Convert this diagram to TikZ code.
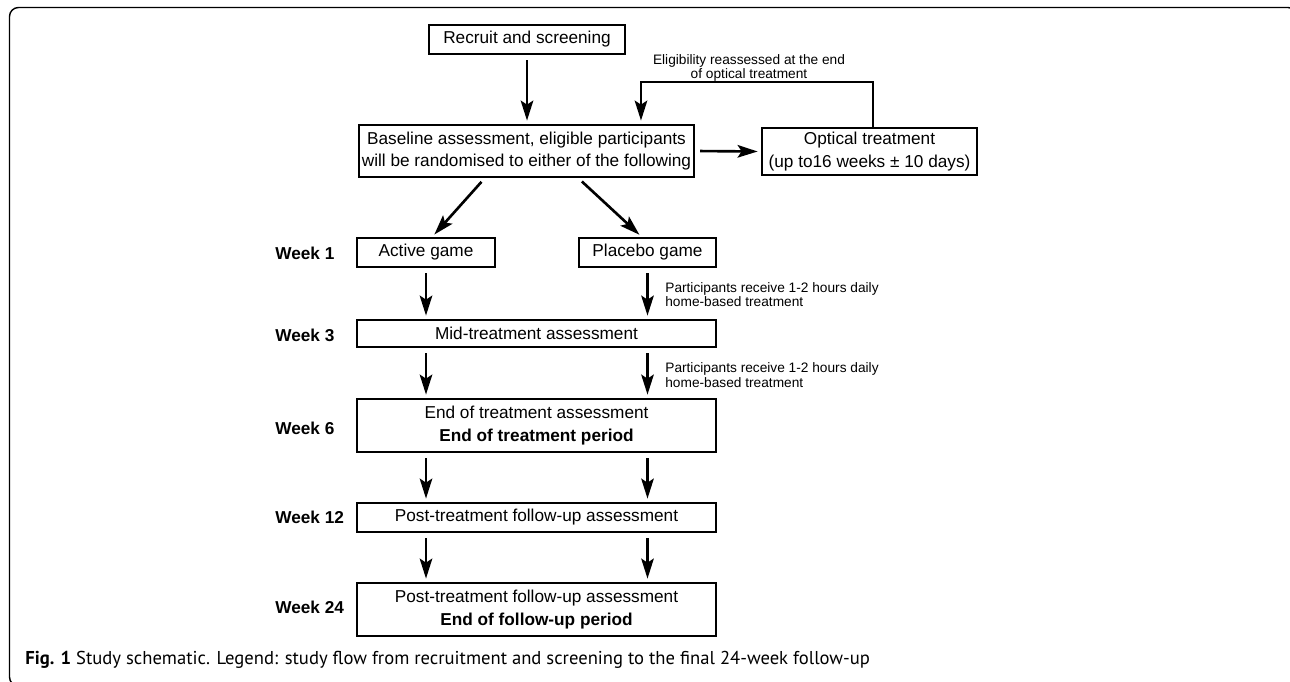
\documentclass[tikz,border=0pt]{standalone}
\usepackage{fontspec}
\setmainfont{Liberation Sans}
\newfontfamily\capfont{PT Sans}
\usepackage{tikz}
\usetikzlibrary{arrows.meta, positioning, calc}

\newcommand{\mainsz}{\fontsize{9.8}{13}\selectfont}
\newcommand{\notesz}{\fontsize{7.8}{8.2}\selectfont}

\begin{document}
\begin{tikzpicture}[
		x=0.02cm, y=-0.02cm,
		>={Stealth[length=0.4cm, width=0.25cm, inset=0.08cm]},
		box/.style={draw, line width=1pt, inner sep=0pt, align=center, font=\mainsz},
		weeklbl/.style={anchor=west, inner sep=0pt, font=\mainsz\bfseries},
		note/.style={anchor=west, inner sep=0pt, align=left, font=\notesz},
		arr/.style={->, line width=1.5pt, shorten <=3pt, shorten >=2pt},
	]
		\useasboundingbox (0,0) rectangle (1290,681);
		\clip (0,0) rectangle (1290,681);

		% outer frame
		\draw[line width=0.8pt, rounded corners=0.18cm] (9.5,7.5) rectangle (1297,686);

		% top part
		\node[box, minimum width=3.92cm, minimum height=0.58cm] (recruit) at (527,39.5) {Recruit and screening};
		\node[box, minimum width=6.7cm, minimum height=1.04cm] (baseline) at (526.5,151)
			{Baseline assessment, eligible participants\\will be randomised to either of the following};
		\node[box, minimum width=4.3cm, minimum height=0.94cm] (optical) at (869.5,151.5)
			{Optical treatment\\(up to16 weeks ± 10 days)};
		\node[align=center, inner sep=0pt, font=\notesz] (elig) at (749,68)
			{Eligibility reassessed at the end\\of optical treatment};

		% study arms
		\node[box, minimum width=2.76cm, minimum height=0.58cm] (active) at (426,252.5) {Active game};
		\node[box, minimum width=2.74cm, minimum height=0.58cm] (placebo) at (647.5,252.5) {Placebo game};
		\node[box, minimum width=7.18cm, minimum height=0.54cm] (mid) at (536.5,333.5) {Mid-treatment assessment};
		\node[box, minimum width=7.18cm, minimum height=1.06cm] (endtx) at (536.5,425.5)
			{End of treatment assessment\\\textbf{End of treatment period}};
		\node[box, minimum width=7.18cm, minimum height=0.58cm] (fu12) at (536.5,517.5) {Post-treatment follow-up assessment};
		\node[box, minimum width=7.18cm, minimum height=1.06cm] (fu24) at (536.5,609.5)
			{Post-treatment follow-up assessment\\\textbf{End of follow-up period}};

		% week labels
		\node[weeklbl] (w1) at (275,253) {Week 1};
		\node[weeklbl] (w3) at (275,335) {Week 3};
		\node[weeklbl] (w6) at (275,428) {Week 6};
		\node[weeklbl] (w12) at (275,517) {Week 12};
		\node[weeklbl] (w24) at (275,607) {Week 24};

		% notes
		\node[note] (daily1) at (665,294.5) {Participants receive 1-2 hours daily\\home-based treatment};
		\node[note] (daily2) at (665,375) {Participants receive 1-2 hours daily\\home-based treatment};

		% arrows
		\draw[arr] (recruit.south) -- (recruit.south |- baseline.north);
		\draw[arr] (baseline.east) -- (optical.west);
		\draw[arr, shorten <=0pt] ([xshift=0.07cm]optical.north) -- ++(0,-45) -| ([xshift=2.29cm]baseline.north);
		\draw[arr] ([xshift=-0.83cm]baseline.south) -- ([xshift=0.12cm]active.north);
		\draw[arr] ([xshift=1.03cm]baseline.south) -- ([xshift=-0.11cm]placebo.north);
		\draw[arr] (active.south) -- (active.south |- mid.north);
		\draw[arr] (placebo.south) -- (placebo.south |- mid.north);
		\foreach \a/\b in {mid/endtx, endtx/fu12, fu12/fu24} {
			\draw[arr] (\a.south -| active) -- (\b.north -| active);
			\draw[arr] (\a.south -| placebo) -- (\b.north -| placebo);
		}

		% caption
		\node[anchor=west, inner sep=0pt, font=\capfont\fontsize{10.6}{12}\selectfont] (caption) at (25,660)
			{\textbf{Fig. 1} Study schematic. Legend: study flow from recruitment and screening to the final 24-week follow-up};
	\end{tikzpicture}
\end{document}
